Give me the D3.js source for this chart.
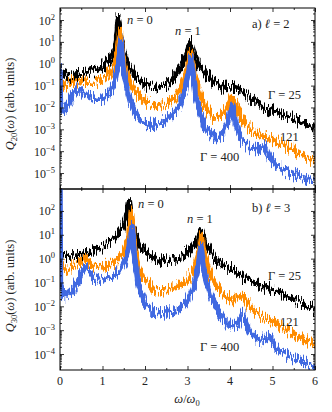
<!DOCTYPE html>
<html>
<head>
<meta charset="utf-8">
<script src="https://cdn.jsdelivr.net/npm/d3@7"></script>
<style>
  body { margin: 0; background: #fff; }
</style>
</head>
<body>
<script>
// values are log10 of Q(omega): [omega/omega0, log10 Q]
var l2_g25 = [[0,-0.45],[0.1,-0.5],[0.2,-0.6],[0.4,-0.5],[0.6,-0.45],[0.8,-0.32],[1.0,-0.12],[1.15,0.15],[1.25,0.5],[1.32,1.0],[1.37,2.1],[1.42,1.2],[1.5,0.45],[1.6,-0.05],[1.75,-0.5],[2.0,-0.95],[2.3,-1.1],[2.55,-0.9],[2.75,-0.45],[2.9,0.1],[3.0,0.6],[3.06,1.0],[3.12,0.55],[3.25,-0.05],[3.45,-0.5],[3.65,-0.9],[3.85,-1.1],[4.05,-1.05],[4.2,-1.15],[4.45,-1.5],[4.8,-2.0],[5.2,-2.3],[5.6,-2.6],[6.0,-2.9]];
var l2_g121 = [[0,-0.75],[0.15,-1.0],[0.35,-0.75],[0.55,-0.85],[0.8,-0.85],[1.0,-0.7],[1.15,-0.45],[1.28,-0.05],[1.36,0.6],[1.41,1.45],[1.46,0.6],[1.53,-0.2],[1.65,-0.85],[1.85,-1.45],[2.05,-1.8],[2.3,-1.95],[2.5,-1.85],[2.7,-1.55],[2.85,-1.1],[2.97,-0.45],[3.03,0.1],[3.07,0.55],[3.12,0.0],[3.2,-0.8],[3.4,-1.95],[3.6,-2.45],[3.8,-2.4],[3.95,-1.95],[4.06,-1.5],[4.12,-1.8],[4.25,-2.45],[4.45,-2.95],[4.8,-3.35],[5.2,-3.65],[5.6,-4.05],[6.0,-4.45]];
var l2_g400 = [[0,-0.2],[0.01,-1.9],[0.1,-2.2],[0.25,-1.6],[0.42,-1.15],[0.6,-1.45],[0.8,-1.62],[1.0,-1.62],[1.2,-1.25],[1.3,-0.7],[1.38,0.1],[1.43,1.05],[1.48,0.0],[1.55,-0.9],[1.65,-1.7],[1.8,-2.4],[2.0,-2.7],[2.2,-2.82],[2.4,-2.7],[2.6,-2.45],[2.8,-1.9],[2.95,-1.15],[3.03,-0.35],[3.08,0.3],[3.13,-0.5],[3.2,-1.6],[3.4,-2.9],[3.6,-3.35],[3.8,-3.3],[3.95,-2.7],[4.05,-1.9],[4.12,-2.6],[4.25,-3.45],[4.5,-3.9],[4.7,-3.95],[4.82,-3.75],[4.92,-4.2],[5.1,-4.7],[5.4,-5.0],[5.7,-5.2],[6.0,-5.4]];

var l3_g25 = [[0,0.15],[0.25,0.05],[0.5,0.15],[0.75,0.35],[1.0,0.5],[1.25,0.78],[1.45,1.2],[1.56,1.65],[1.63,2.4],[1.68,1.6],[1.75,1.05],[1.85,0.65],[2.0,0.3],[2.25,0.0],[2.5,-0.12],[2.8,0.03],[3.0,0.25],[3.15,0.55],[3.25,0.85],[3.32,1.15],[3.4,0.75],[3.5,0.4],[3.7,-0.12],[4.0,-0.4],[4.4,-0.9],[4.8,-1.18],[5.2,-1.45],[5.6,-1.8],[6.0,-2.15]];
var l3_g121 = [[0,-0.2],[0.15,-0.48],[0.35,-0.3],[0.6,0.0],[0.8,-0.3],[1.0,-0.35],[1.3,-0.13],[1.5,0.25],[1.62,0.9],[1.68,1.9],[1.74,0.85],[1.82,-0.2],[1.95,-0.8],[2.2,-1.3],[2.5,-1.3],[2.8,-1.18],[3.0,-0.9],[3.15,-0.45],[3.27,0.25],[3.33,0.9],[3.4,0.1],[3.55,-0.75],[3.8,-1.42],[4.05,-1.72],[4.3,-1.55],[4.5,-2.1],[4.8,-2.5],[5.2,-2.85],[5.6,-3.25],[6.0,-3.65]];
var l3_g400 = [[0,3.2],[0.01,-1.2],[0.1,-1.6],[0.3,-1.3],[0.6,-0.35],[0.8,-0.8],[1.0,-0.9],[1.2,-0.8],[1.4,-0.55],[1.55,-0.05],[1.65,0.75],[1.7,1.35],[1.76,0.0],[1.85,-1.15],[2.0,-1.85],[2.2,-2.25],[2.5,-2.28],[2.8,-2.15],[3.0,-1.72],[3.15,-1.15],[3.26,-0.35],[3.32,0.5],[3.39,-0.55],[3.55,-1.6],[3.8,-2.42],[4.0,-2.85],[4.2,-2.7],[4.3,-2.35],[4.45,-3.0],[4.7,-3.45],[4.93,-3.25],[5.1,-3.8],[5.5,-4.2],[6.0,-4.55]];

var colors = ["#000000", "#ff8c00", "#4169e1"];
var xTicks = [0, 1, 2, 3, 4, 5, 6];
var yTicksA = [-5, -4, -3, -2, -1, 0, 1, 2];
var yTicksB = [-4, -3, -2, -1, 0, 1, 2];

var FONT = "'Liberation Serif', 'DejaVu Serif', serif";

var svg = d3.select("body").append("svg")
  .attr("width", 332)
  .attr("height", 412)
  .attr("font-family", FONT);

// roughness for the noisy spectra: vertical jitter only
var defs = svg.append("defs");
var f = defs.append("filter").attr("id", "noise")
  .attr("x", "-5%").attr("y", "-20%").attr("width", "110%").attr("height", "140%");
f.append("feTurbulence").attr("type", "fractalNoise")
  .attr("baseFrequency", "1.2 0.08").attr("numOctaves", 2).attr("seed", 7).attr("result", "t");
var ct = f.append("feComponentTransfer").attr("in", "t").attr("result", "t2");
ct.append("feFuncR").attr("type", "linear").attr("slope", 0).attr("intercept", 0.5);
ct.append("feFuncG").attr("type", "linear").attr("slope", 2.2).attr("intercept", -0.6);
f.append("feDisplacementMap").attr("in", "SourceGraphic").attr("in2", "t2")
  .attr("scale", 10).attr("xChannelSelector", "R").attr("yChannelSelector", "G");

var x = d3.scaleLinear().domain([0, 6]).range([60, 315]);

var panels = [
  { id: "a", top: 8, bottom: 189, lo: -5.73, hi: 2.55, series: [l2_g25, l2_g121, l2_g400], ticks: yTicksA, sub: "20",
    notes: [["n0", 127, 24], ["n1", 175, 35], ["lab", 252, 28, "a)", "2"], ["g25", 268, 99], ["121", 280, 141], ["g400", 200, 161]], titleY: 104 },
  { id: "b", top: 189, bottom: 370, lo: -4.67, hi: 2.92, series: [l3_g25, l3_g121, l3_g400], ticks: yTicksB, sub: "30",
    notes: [["n0", 138, 208], ["n1", 187, 223], ["lab", 252, 212, "b)", "3"], ["g25", 268, 280], ["121", 280, 326], ["g400", 200, 351]], titleY: 286 }
];

panels.forEach(function(p) {
  var y = d3.scaleLog().domain([Math.pow(10, p.lo), Math.pow(10, p.hi)]).range([p.bottom, p.top]);

  defs.append("clipPath").attr("id", "clip" + p.id)
    .append("rect").attr("x", 60).attr("y", p.top).attr("width", 255).attr("height", p.bottom - p.top);

  var line = d3.line()
    .x(function(d) { return x(d[0]); })
    .y(function(d) { return y(Math.pow(10, d[1])); });

  var g = svg.append("g").attr("clip-path", "url(#clip" + p.id + ")");
  p.series.forEach(function(s, i) {
    g.append("path")
      .attr("d", line(s))
      .attr("fill", "none")
      .attr("stroke", colors[i])
      .attr("stroke-width", 5.5)
      .attr("stroke-linejoin", "round")
      .attr("filter", "url(#noise)");
  });

  // minor log ticks
  var minors = [];
  for (var e = Math.floor(p.lo); e < Math.ceil(p.hi); e++) {
    for (var k = 2; k < 10; k++) {
      var v = k * Math.pow(10, e);
      if (v > Math.pow(10, p.lo) && v < Math.pow(10, p.hi)) minors.push(v);
    }
  }
  var majors = p.ticks.map(function(t) { return Math.pow(10, t); });

  function axis(gen, vals, size, tx) {
    var a = svg.append("g").attr("transform", tx)
      .call(gen.tickValues(vals).tickSize(size).tickSizeOuter(0).tickFormat(""));
    a.select(".domain").remove();
    a.selectAll("line").attr("stroke", "#000").attr("stroke-width", 0.8);
  }
  axis(d3.axisLeft(y), majors, -4, "translate(60,0)");
  axis(d3.axisLeft(y), minors, -2, "translate(60,0)");
  axis(d3.axisRight(y), majors, -4, "translate(315,0)");
  axis(d3.axisRight(y), minors, -2, "translate(315,0)");
  axis(d3.axisBottom(x), xTicks, -4, "translate(0," + p.bottom + ")");
  axis(d3.axisBottom(x), [0.5, 1.5, 2.5, 3.5, 4.5, 5.5], -2, "translate(0," + p.bottom + ")");
  axis(d3.axisTop(x), xTicks, -4, "translate(0," + p.top + ")");
  axis(d3.axisTop(x), [0.5, 1.5, 2.5, 3.5, 4.5, 5.5], -2, "translate(0," + p.top + ")");

  svg.append("rect")
    .attr("x", 60).attr("y", p.top).attr("width", 255).attr("height", p.bottom - p.top)
    .attr("fill", "none").attr("stroke", "#000").attr("stroke-width", 1);

  // y tick labels 10^n
  p.ticks.forEach(function(t) {
    var tx = svg.append("text")
      .attr("x", 55).attr("y", y(Math.pow(10, t)) + 4.5)
      .attr("text-anchor", "end").attr("font-size", 12).attr("fill", "#222");
    tx.append("tspan").text("10");
    tx.append("tspan").attr("dy", -5).attr("font-size", 8.5).text(t < 0 ? "\u2212" + (-t) : String(t));
  });

  // y title
  var yt = svg.append("text")
    .attr("transform", "translate(14," + p.titleY + ") rotate(-90)")
    .attr("text-anchor", "middle").attr("font-size", 12.5).attr("fill", "#222");
  yt.append("tspan").attr("font-style", "italic").text("Q");
  yt.append("tspan").attr("font-size", 8.5).attr("dy", 2.5).text(p.sub);
  yt.append("tspan").attr("dy", -2.5).text("(");
  yt.append("tspan").attr("font-style", "italic").text("\u03c9");
  yt.append("tspan").text(") (arb. units)");

  // annotations
  p.notes.forEach(function(n) {
    var t = svg.append("text").attr("x", n[1]).attr("y", n[2]).attr("font-size", 12.5).attr("fill", "#222");
    if (n[0] === "n0" || n[0] === "n1") {
      t.append("tspan").attr("font-style", "italic").text("n");
      t.append("tspan").text(" = " + (n[0] === "n0" ? "0" : "1"));
    } else if (n[0] === "lab") {
      t.append("tspan").text(n[3] + " ");
      t.append("tspan").attr("font-style", "italic").text("\u2113");
      t.append("tspan").text(" = " + n[4]);
    } else if (n[0] === "g25") {
      t.text("\u0393 = 25");
    } else if (n[0] === "g400") {
      t.text("\u0393 = 400");
    } else {
      t.text("121");
    }
  });
});

// x tick labels on the lower panel
xTicks.forEach(function(t) {
  svg.append("text")
    .attr("x", x(t)).attr("y", 385)
    .attr("text-anchor", "middle").attr("font-size", 12).attr("fill", "#222")
    .text(t);
});

var xt = svg.append("text")
  .attr("x", 187).attr("y", 403)
  .attr("text-anchor", "middle").attr("font-size", 12.5).attr("fill", "#222");
xt.append("tspan").attr("font-style", "italic").text("\u03c9");
xt.append("tspan").text("/");
xt.append("tspan").attr("font-style", "italic").text("\u03c9");
xt.append("tspan").attr("font-size", 8.5).attr("dy", 2.5).text("0");
</script>
</body>
</html>
